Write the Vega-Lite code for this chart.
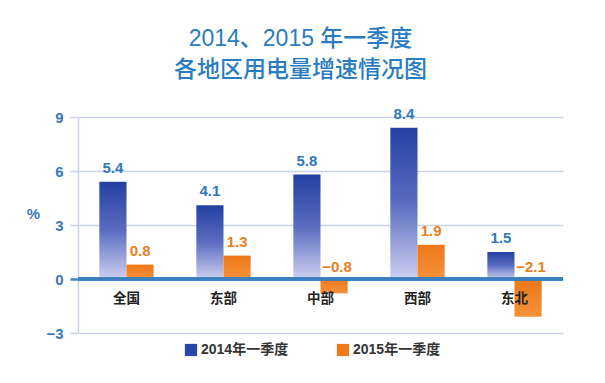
{
  "$schema": "https://vega.github.io/schema/vega-lite/v6.json",
  "width": 485,
  "height": 216,
  "autosize": {"type": "none"},
  "padding": {"left": 78, "top": 117, "right": 42, "bottom": 50},
  "background": "white",
  "title": {
    "text": ["2014、2015 年一季度", "各地区用电量增速情况图"],
    "fontSize": 23,
    "color": "#2a7cc0",
    "font": "Liberation Sans, Noto Sans CJK SC",
    "fontWeight": 500,
    "lineHeight": 31,
    "anchor": "middle",
    "dx": -20,
    "offset": 25
  },
  "data": {
    "values": [
      {"region": "全国", "series": "2014年一季度", "value": 5.4},
      {"region": "全国", "series": "2015年一季度", "value": 0.8},
      {"region": "东部", "series": "2014年一季度", "value": 4.1},
      {"region": "东部", "series": "2015年一季度", "value": 1.3},
      {"region": "中部", "series": "2014年一季度", "value": 5.8},
      {"region": "中部", "series": "2015年一季度", "value": -0.8},
      {"region": "西部", "series": "2014年一季度", "value": 8.4},
      {"region": "西部", "series": "2015年一季度", "value": 1.9},
      {"region": "东北", "series": "2014年一季度", "value": 1.5},
      {"region": "东北", "series": "2015年一季度", "value": -2.1}
    ]
  },
  "encoding": {
    "x": {
      "field": "region",
      "type": "nominal",
      "sort": null,
      "scale": {"paddingInner": 0.44, "paddingOuter": 0.22},
      "axis": {
        "title": null,
        "orient": "bottom",
        "offset": -54,
        "domain": false,
        "ticks": false,
        "grid": false,
        "labelAngle": 0,
        "labelPadding": 12,
        "labelFontSize": 13.5,
        "labelFontWeight": "bold",
        "labelColor": "#222222",
        "labelFont": "Noto Sans CJK SC",
        "zindex": 1
      }
    },
    "xOffset": {
      "field": "series",
      "type": "nominal",
      "scale": {"domain": ["2014年一季度", "2015年一季度"], "paddingInner": 0, "paddingOuter": 0}
    }
  },
  "layer": [
    {
      "mark": {"type": "bar", "opacity": 0},
      "encoding": {
        "y": {
          "field": "value",
          "type": "quantitative",
          "scale": {"domain": [-3, 9], "nice": false},
          "axis": {
            "values": [-3, 0, 3, 6, 9],
            "title": "%",
            "titleAngle": 0,
            "titleX": -45,
            "titleY": 96,
            "titleAlign": "center",
            "titleBaseline": "middle",
            "titleFontSize": 15,
            "titleFontWeight": "bold",
            "titleColor": "#3a78b8",
            "titleFont": "Liberation Sans",
            "labelFontSize": 15,
            "labelFontWeight": "bold",
            "labelColor": "#3a78b8",
            "labelFont": "Liberation Sans",
            "labelPadding": 7,
            "tickSize": 8,
            "tickColor": {"condition": {"test": "datum.value === 0", "value": "#3a80c0"}, "value": "#c9d1ea"},
            "tickWidth": {"condition": {"test": "datum.value === 0", "value": 2.5}, "value": 1.5},
            "domainColor": "#c9d1ea",
            "domainWidth": 1.5,
            "gridColor": "#c9d1ea",
            "gridWidth": 1.5
          }
        },
        "color": {
          "field": "series",
          "type": "nominal",
          "scale": {"domain": ["2014年一季度", "2015年一季度"], "range": ["#2a46a6", "#f07a1a"]},
          "legend": {
            "title": null,
            "orient": "none",
            "legendX": 106,
            "legendY": 226,
            "direction": "horizontal",
            "symbolType": "square",
            "symbolSize": 150,
            "symbolOpacity": 1,
            "symbolStrokeWidth": 0,
            "labelFontSize": 14,
            "labelFontWeight": "bold",
            "labelColor": "#333333",
            "labelFont": "Liberation Sans, Noto Sans CJK SC",
            "columnPadding": 47,
            "labelOffset": 3
          }
        }
      }
    },
    {
      "transform": [{"filter": "datum.series === '2014年一季度'"}],
      "mark": {
        "type": "bar",
        "color": {
          "gradient": "linear", "x1": 0, "y1": 0, "x2": 0, "y2": 1,
          "stops": [{"offset": 0, "color": "#2440a0"}, {"offset": 0.5, "color": "#5a6cc0"}, {"offset": 1, "color": "#cdd0f0"}]
        }
      },
      "encoding": {"y": {"field": "value", "type": "quantitative"}}
    },
    {
      "transform": [{"filter": "datum.series === '2015年一季度'"}],
      "mark": {
        "type": "bar",
        "color": {
          "gradient": "linear", "x1": 0, "y1": 0, "x2": 0, "y2": 1,
          "stops": [{"offset": 0, "color": "#ee7818"}, {"offset": 1, "color": "#f4923a"}]
        }
      },
      "encoding": {"y": {"field": "value", "type": "quantitative"}}
    },
    {
      "mark": {"type": "rule", "color": "#3a80c0", "strokeWidth": 2.5},
      "encoding": {"y": {"datum": 0}, "x": {"value": 0}, "x2": {"value": 485}, "xOffset": null}
    },
    {
      "transform": [{"filter": "datum.series === '2014年一季度'"}],
      "mark": {"type": "text", "baseline": "bottom", "dy": -6, "fontSize": 15, "fontWeight": "bold", "color": "#2f78c0", "font": "Liberation Sans"},
      "encoding": {"y": {"field": "value", "type": "quantitative"}, "text": {"field": "value", "type": "quantitative", "format": ".1f"}}
    },
    {
      "transform": [{"filter": "datum.series === '2015年一季度' && datum.value >= 0"}],
      "mark": {"type": "text", "baseline": "bottom", "dy": -6, "fontSize": 15, "fontWeight": "bold", "color": "#e8801e", "font": "Liberation Sans"},
      "encoding": {"y": {"field": "value", "type": "quantitative"}, "text": {"field": "value", "type": "quantitative", "format": ".1f"}}
    },
    {
      "transform": [{"filter": "datum.series === '2015年一季度' && datum.value < 0"}],
      "mark": {"type": "text", "baseline": "bottom", "dy": -4, "dx": 3, "fontSize": 15, "fontWeight": "bold", "color": "#e8801e", "font": "Liberation Sans"},
      "encoding": {"y": {"datum": 0}, "text": {"field": "value", "type": "quantitative", "format": ".1f"}}
    }
  ],
  "config": {
    "view": {"stroke": null},
    "font": "Liberation Sans, Noto Sans CJK SC"
  }
}
